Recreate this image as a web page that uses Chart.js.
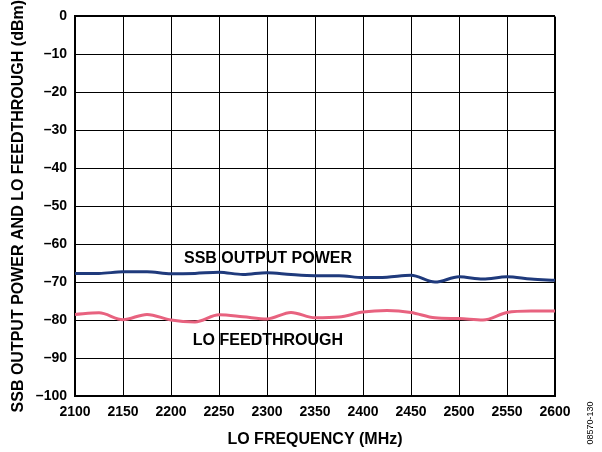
<!DOCTYPE html>
<html>
<head>
<meta charset="utf-8">
<script src="https://cdn.jsdelivr.net/npm/chart.js@4.4.1/dist/chart.umd.min.js"></script>
<style>
  html, body { margin: 0; padding: 0; background: #fff; }
  #wrap { width: 602px; height: 452px; }
</style>
</head>
<body>
<div id="wrap"><canvas id="chart" width="602" height="452"></canvas></div>
<script>
const freqs = [2100, 2125, 2150, 2175, 2200, 2225, 2250, 2275, 2300, 2325, 2350,
               2375, 2400, 2425, 2450, 2475, 2500, 2525, 2550, 2575, 2600];
const ssbPower = [-67.7, -67.7, -67.3, -67.3, -67.8, -67.7, -67.4, -68.0, -67.5, -68.0, -68.3,
                  -68.3, -68.8, -68.7, -68.2, -70.0, -68.6, -69.2, -68.6, -69.2, -69.5];
const loFeed = [-78.5, -78.1, -79.9, -78.5, -80.0, -80.5, -78.6, -79.1, -79.7, -78.0, -79.4,
                -79.2, -77.9, -77.5, -78.0, -79.4, -79.6, -80.0, -78.0, -77.6, -77.6];
const xTicks = [2100, 2150, 2200, 2250, 2300, 2350, 2400, 2450, 2500, 2550, 2600];
const yTicks = [0, -10, -20, -30, -40, -50, -60, -70, -80, -90, -100];

const labels = [
  { text: 'SSB OUTPUT POWER', x: 2301, y: -63.9 },
  { text: 'LO FEEDTHROUGH', x: 2301, y: -85.3 }
];

const font = 'Liberation Sans, Arial, sans-serif';

const annotate = {
  id: 'annotate',
  afterDraw(chart) {
    const c = chart.ctx;
    const xs = chart.scales.x, ys = chart.scales.y;
    c.save();
    c.fillStyle = '#000';
    c.font = 'bold 16px ' + font;
    c.textAlign = 'center';
    c.textBaseline = 'middle';
    labels.forEach(l => c.fillText(l.text, xs.getPixelForValue(l.x), ys.getPixelForValue(l.y)));
    // figure number
    c.font = '9px ' + font;
    c.translate(591, 423);
    c.rotate(-Math.PI / 2);
    c.fillText('08570-130', 0, 0);
    c.restore();
  }
};

const toPts = (arr) => arr.map((v, i) => ({ x: freqs[i], y: v }));

new Chart(document.getElementById('chart'), {
  type: 'line',
  data: {
    datasets: [{
      label: 'SSB OUTPUT POWER',
      data: toPts(ssbPower),
      borderColor: '#1f3a7c',
      borderWidth: 3,
      pointRadius: 0,
      tension: 0.4,
      cubicInterpolationMode: 'monotone'
    }, {
      label: 'LO FEEDTHROUGH',
      data: toPts(loFeed),
      borderColor: '#e8627f',
      borderWidth: 3,
      pointRadius: 0,
      tension: 0.4,
      cubicInterpolationMode: 'monotone'
    }]
  },
  options: {
    responsive: false,
    animation: false,
    layout: { padding: { top: 14, right: 47, left: 0, bottom: 0 } },
    plugins: { legend: { display: false }, tooltip: { enabled: false } },
    scales: {
      x: {
        type: 'linear',
        min: 2100, max: 2600,
        afterBuildTicks: s => { s.ticks = xTicks.map(v => ({ value: v })); },
        afterFit: s => { s.height = 56; },
        grid: {
          color: '#000',
          lineWidth: ctx => (ctx.tick && (ctx.tick.value === 2100 || ctx.tick.value === 2600)) ? 2 : 1,
          drawTicks: false
        },
        border: { color: '#000', width: 2 },
        ticks: {
          color: '#000', padding: 8, maxRotation: 0,
          font: { family: font, size: 14, weight: 'bold' },
          callback: v => String(v)
        },
        title: {
          display: true, text: 'LO FREQUENCY (MHz)', color: '#000',
          font: { family: font, size: 16, weight: 'bold' },
          padding: { top: 0, bottom: 2.4 }
        }
      },
      y: {
        min: -100, max: 0,
        afterBuildTicks: s => { s.ticks = yTicks.map(v => ({ value: v })); },
        afterFit: s => { s.width = 75; },
        grid: {
          color: '#000',
          lineWidth: ctx => (ctx.tick && (ctx.tick.value === 0 || ctx.tick.value === -100)) ? 2 : 1,
          drawTicks: false
        },
        border: { color: '#000', width: 2 },
        ticks: {
          color: '#000', padding: 8,
          font: { family: font, size: 14, weight: 'bold' },
          callback: v => v < 0 ? '\u2013' + Math.abs(v) : String(v)
        },
        title: {
          display: true, text: 'SSB OUTPUT POWER AND LO FEEDTHROUGH (dBm)', color: '#000',
          font: { family: font, size: 16, weight: 'bold' },
          padding: { top: 9.4, bottom: 0 }
        }
      }
    }
  },
  plugins: [annotate]
});
</script>
</body>
</html>
